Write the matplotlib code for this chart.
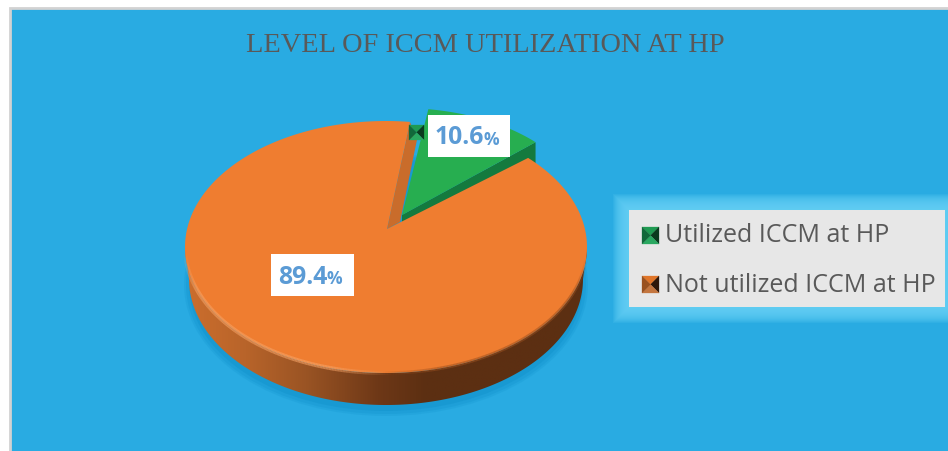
import matplotlib
matplotlib.use("Agg")
import matplotlib.pyplot as plt
import numpy as np
from matplotlib.collections import LineCollection
from matplotlib.colors import LinearSegmentedColormap, to_rgb
from matplotlib.patches import Ellipse, Polygon, Rectangle

title = "LEVEL OF ICCM UTILIZATION AT HP"
categories = ["Utilized ICCM at HP", "Not utilized ICCM at HP"]
shares = [10.6, 89.4]
label_text = ["10.6", "89.4"]

blue = "#29abe2"
green = "#27ae50"
orange = "#ef7d30"
label_blue = "#5b9bd5"

# pie geometry in pixels
cx, cy = 386, 247
rx, ry = 201, 126
depth = 32
green_start = 8.5
orange_start = 45
apex_orange = (387, 229)
apex_green = (402, 215)


def rim(a1, a2, c=(cx, cy), r=(rx, ry)):
    a = np.radians(np.linspace(a1, a2, 200))
    return np.column_stack([c[0] + r[0] * np.sin(a), c[1] - r[1] * np.cos(a)])


def bevel_key(ax, x, y, size, cols):
    # little pyramid style legend key
    c = (x + size / 2, y + size / 2)
    corners = [(x, y), (x + size, y), (x + size, y + size), (x, y + size)]
    for i in range(4):
        ax.add_patch(Polygon([corners[i], corners[(i + 1) % 4], c],
                             fc=cols[i], ec=cols[i], lw=0.2, zorder=12))


def fade_arc(ax, a1, a2, col, lw, peak):
    # arc along the top face edge, fading out at both ends
    pts = rim(a1, a2)
    segs = np.stack([pts[:-1], pts[1:]], axis=1)
    t = np.linspace(0, 1, len(segs))
    alphas = peak * np.minimum(1, np.minimum(t, 1 - t) * 5)
    cols = [(*to_rgb(col), a) for a in alphas]
    ax.add_collection(LineCollection(segs, colors=cols, linewidths=lw, zorder=7))


key_green = ["#1f9a52", "#0a3a1e", "#2aa860", "#11683a"]
key_orange = ["#e0762a", "#2e180a", "#c4763f", "#9a5220"]

fig = plt.figure(figsize=(9.48, 4.51), dpi=100, facecolor="white")
ax = fig.add_axes([0, 0, 1, 1])
ax.axis("off")

ax.add_patch(Rectangle((10, 8), 950, 460, fc=blue, ec="#d2d2d2", lw=2, zorder=0))

# soft shadow under the pie
for grow, alpha in [(5, 0.25), (3, 0.35), (0, 0.6)]:
    ax.add_patch(Ellipse((cx, cy + depth + 6), 2 * (197 + grow), 2 * (ry + grow),
                         fc="#1596cf", ec="none", alpha=alpha, zorder=1))

a_g1 = green_start
a_g2 = a_g1 + 360 * shares[0] / 100
a_o1 = orange_start
a_o2 = a_o1 + 360 * shares[1] / 100

# green slice
green_arc = rim(a_g1, a_g2, c=(401, 217), r=(185, 109))
tip = green_arc[-1]
ax.add_patch(Polygon([apex_green, tip, tip + [0, depth], np.add(apex_green, [0, depth])],
                     fc="#147a3e", ec="none", zorder=2))
ax.add_patch(Polygon(np.vstack([apex_green, green_arc]), fc=green, ec="none", zorder=3))

# orange slice, cut face then outer side then top
end = rim(a_o2, a_o2 + 0.01)[0]
ax.add_patch(Polygon([apex_orange, end, end + [7, 18], np.add(apex_orange, [13, -7])],
                     fc="#c96c2b", ec="none", zorder=4))

side = Polygon(np.vstack([rim(90, 270), rim(270, 90, c=(cx, cy + depth), r=(197, ry))]),
               fc="none", ec="none", zorder=5)
ax.add_patch(side)
side_cmap = LinearSegmentedColormap.from_list(
    "side", [(0, "#cc6e2d"), (0.15, "#b8642a"), (0.3, "#9a5424"),
             (0.48, "#6e3817"), (0.6, "#5c2f12"), (1, "#5c2f12")])
im = ax.imshow(np.linspace(0, 1, 256)[None, :], cmap=side_cmap, aspect="auto",
               extent=(cx - rx, cx + rx, cy + depth + ry, cy), zorder=5)
im.set_clip_path(side)

top = np.vstack([apex_orange, rim(a_o1, a_o2)])
ax.add_patch(Polygon(top, fc=orange, ec="none", zorder=6))

# bevel along the front edge of the top face
fade_arc(ax, 268, 178, "#f6a468", 3, 0.6)
fade_arc(ax, 182, 95, "#9a5020", 2.5, 0.55)

ax.text(485, 45, title, family="Liberation Serif", fontsize=20.4, color="#595959",
        ha="center", va="center")

# data labels
ax.add_patch(Rectangle((428, 115), 82, 42, fc="white", ec="none", zorder=9))
ax.add_patch(Rectangle((271, 254), 83, 42, fc="white", ec="none", zorder=9))
for x_num, x_pct, y_txt, txt in zip([435, 278], [484, 327], [138, 277], label_text):
    ax.text(x_num, y_txt, txt, family="Open Sans", weight="bold", fontsize=17.8,
            color=label_blue, va="center", zorder=10)
    ax.text(x_pct, y_txt + 2, "%", family="Open Sans", weight="bold", fontsize=12.5,
            color=label_blue, va="center", zorder=10)
bevel_key(ax, 409, 125, 15, key_green)

# legend with glow
for grow in range(16, 0, -1):
    ax.add_patch(Rectangle((629 - grow, 210 - grow), 316 + 2 * grow, 97 + 2 * grow,
                           fc="#6ad3f8", ec="none", alpha=0.13, zorder=8))
ax.add_patch(Rectangle((629, 210), 316, 97, fc="#e7e7e7", ec="none", zorder=9))
for y_key, y_txt, name, cols in zip([227, 276], [236, 285], categories, [key_green, key_orange]):
    bevel_key(ax, 642, y_key, 17, cols)
    ax.text(665, y_txt, name, family="Open Sans", fontsize=18, color="#595959",
            va="center", zorder=11)

ax.set_xlim(0, 948)
ax.set_ylim(451, 0)
fig.savefig("out.png", dpi=100)
